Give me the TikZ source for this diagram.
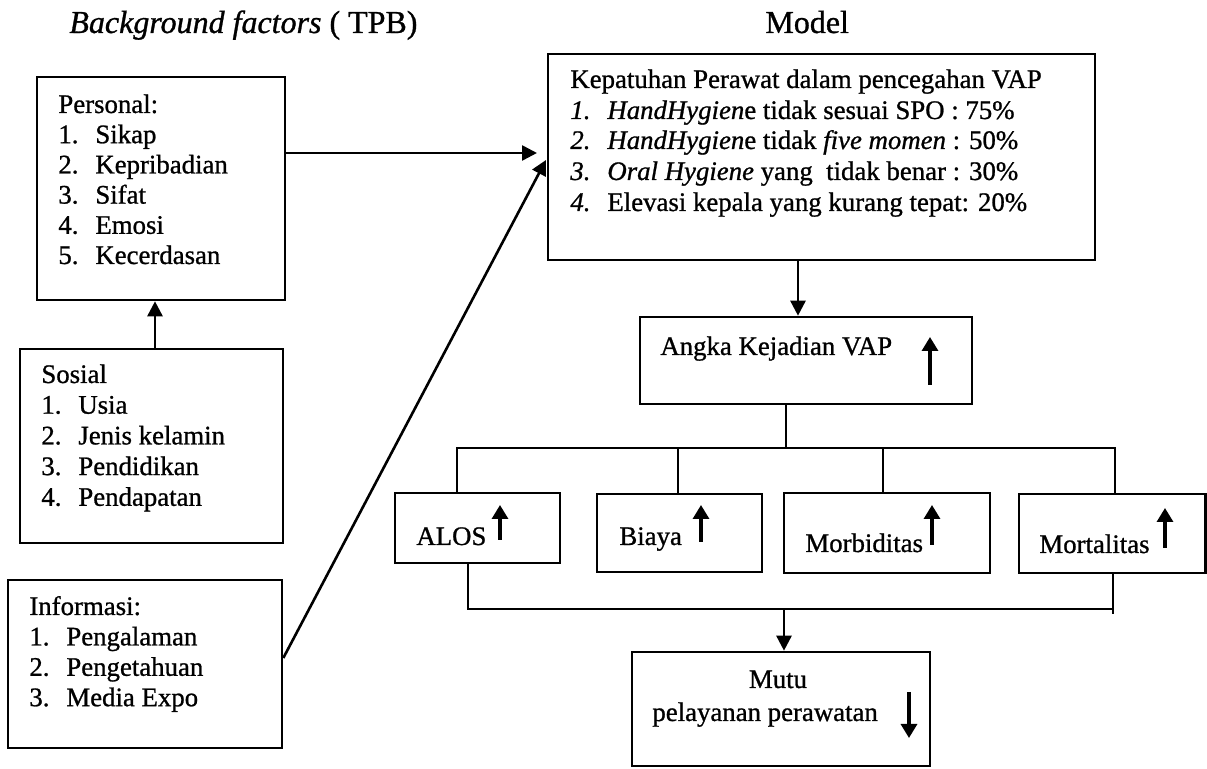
\documentclass[tikz,border=0pt]{standalone}
\usepackage{fontspec}
\setmainfont{Liberation Serif}[FakeBold=0.9]
\usetikzlibrary{arrows.meta,fit}

\newcommand{\num}[1]{\makebox[18.5pt][l]{#1}}

\tikzset{
  box/.style={draw, line width=1.3pt, inner sep=0pt},
  txt/.style={font=\fontsize{13.4}{15}\selectfont, inner sep=0pt, anchor=base west},
  ttl/.style={font=\fontsize{16}{18}\selectfont, inner sep=0pt, anchor=base west},
  arr/.style={line width=1.3pt, -{Triangle[length=7.5pt,width=7.5pt]}},
  link/.style={line width=1.3pt},
  trend/.style={line width=1.6pt, -{Triangle[length=7pt,width=8pt]}},
}

\begin{document}
\begin{tikzpicture}[x=0.5pt,y=-0.5pt]
\useasboundingbox (0,0) rectangle (1207,769);

% headings
\node[ttl] (bgtitle) at (69,33) {\textit{Background factors} ( TPB)};
\node[ttl] (model) at (765,33) {Model};

% background factor boxes
\node[box, fit={(37,77)(285,300)}] (personal) {};
\node[box, fit={(20,349)(283,543)}] (sosial) {};
\node[box, fit={(8,580)(282,748)}] (info) {};

\foreach \t [count=\i from 0] in {Personal:, \num{1.}Sikap, \num{2.}Kepribadian,
    \num{3.}Sifat, \num{4.}Emosi, \num{5.}Kecerdasan}
  \node[txt, name=pers\i] at (58,113+30.2*\i) {\t};

\foreach \t [count=\i from 0] in {Sosial, \num{1.}Usia, \num{2.}Jenis kelamin,
    \num{3.}Pendidikan, \num{4.}Pendapatan}
  \node[txt, name=sos\i] at (41,383+30.7*\i) {\t};

\foreach \t [count=\i from 0] in {Informasi:, \num{1.}Pengalaman,
    \num{2.}Pengetahuan, \num{3.}Media Expo}
  \node[txt, name=inf\i] at (29,615+30.4*\i) {\t};

% compliance box
\node[box, fit={(548,54)(1095,260)}] (main) {};
\node[txt] (m0) at (570,88) {Kepatuhan Perawat dalam pencegahan VAP};
\node[txt] (m1) at (570,119) {\num{\textit{1.}}\textit{HandHygien}e tidak sesuai SPO : 75\%};
\node[txt] (m2) at (570,149) {\num{\textit{2.}}\textit{HandHygien}e tidak \textit{five momen} : 50\%};
\node[txt] (m3) at (570,180) {\num{\textit{3.}}\textit{Oral Hygiene} yang\ \ tidak benar : 30\%};
\node[txt] (m4) at (570,211) {\num{\textit{4.}}Elevasi kepala yang kurang tepat: 20\%};

% incidence box
\node[box, fit={(640,317)(972,404)}] (angka) {};
\node[txt] (angkat) at (660,355) {Angka Kejadian VAP};
\draw[trend] (930,385) -- (930,337);

% consequence boxes
\node[box, fit={(395,493)(560,563)}] (alos) {};
\node[box, fit={(597,494)(762,572)}] (biaya) {};
\node[box, fit={(784,493)(990,573)}] (morb) {};
\node[box, fit={(1019,494)(1205.5,573)}] (mort) {};
\node[txt] (alost) at (416,545) {ALOS};
\node[txt] (biayat) at (619,545) {Biaya};
\node[txt] (morbt) at (805,552) {Morbiditas};
\node[txt] (mortt) at (1039,553) {Mortalitas};
\draw[trend] (500,540) -- (500,505);
\draw[trend] (701,542) -- (701,505);
\draw[trend] (932,545) -- (932,505);
\draw[trend] (1165,548) -- (1165,508);

% quality box
\node[box, fit={(632,652)(930,766)}] (mutu) {};
\node[font=\fontsize{13.4}{15}\selectfont, inner sep=0pt, anchor=base] (mutut) at (778,688) {Mutu};
\node[txt] (mutub) at (652,721) {pelayanan perawatan};
\draw[trend] (909,692) -- (909,738);

% connectors on the left
\coordinate (ptip) at (537,153);
\draw[arr] (personal.east |- ptip) -- (ptip);
\coordinate (dstart) at (282,658);
\coordinate (dtip) at (546,160);
\draw[arr] (info.east |- dstart) -- (dtip);
\coordinate (scol) at (155,0);
\draw[arr] (sosial.north -| scol) -- (personal.south -| scol);

% main flow
\coordinate (mcol) at (798,0);
\draw[arr] (main.south -| mcol) -- (angka.north -| mcol);
\coordinate (bus) at (786,448);
\coordinate (c1) at (457,448);
\coordinate (c2) at (678,448);
\coordinate (c3) at (883,448);
\coordinate (c4) at (1115,448);
\draw[link] (angka.south -| bus) -- (bus);
\draw[link] (alos.north -| c1) -- (c1) -- (c4) -- (mort.north -| c4);
\draw[link] (c2) -- (biaya.north -| c2);
\draw[link] (c3) -- (morb.north -| c3);

\coordinate (d1) at (468,609);
\coordinate (d4) at (1113,609);
\coordinate (d4e) at (1113,614);
\coordinate (dm) at (784,609);
\draw[link] (alos.south -| d1) -- (d1) -- (d4);
\draw[link] (mort.south -| d4) -- (d4e);
\draw[arr] (dm) -- (mutu.north -| dm);
\end{tikzpicture}
\end{document}
